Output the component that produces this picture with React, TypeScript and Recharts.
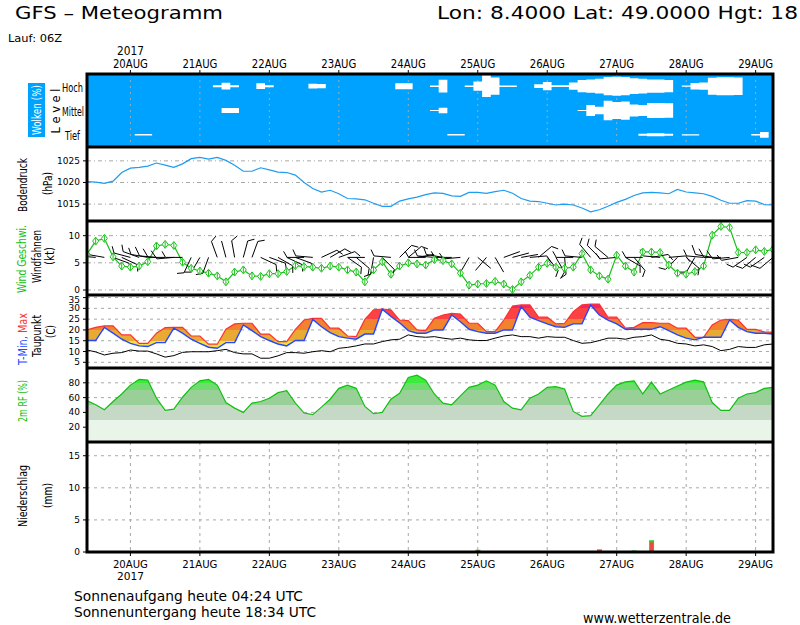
import React from 'react'
import { ComposedChart, Line, Area, Bar, Scatter, XAxis, YAxis, CartesianGrid } from 'recharts'

// forecast steps, hours after 20AUG 00Z (GFS Lauf 06Z, 3-hourly)
const forecastHours = [
  -15, -12, -9, -6, -3, 0, 3, 6, 9, 12,
  15, 18, 21, 24, 27, 30, 33, 36, 39, 42,
  45, 48, 51, 54, 57, 60, 63, 66, 69, 72,
  75, 78, 81, 84, 87, 90, 93, 96, 99, 102,
  105, 108, 111, 114, 117, 120, 123, 126, 129, 132,
  135, 138, 141, 144, 147, 150, 153, 156, 159, 162,
  165, 168, 171, 174, 177, 180, 183, 186, 189, 192,
  195, 198, 201, 204, 207, 210, 213, 216, 219, 222,
]

const dayTicks = [0, 24, 48, 72, 96, 120, 144, 168, 192, 216]
const dayLabels = ['20AUG', '21AUG', '22AUG', '23AUG', '24AUG', '25AUG', '26AUG', '27AUG', '28AUG', '29AUG']

// cloud cover per level (fraction of the level band)
const cloudHigh = [
  0, 0, 0, 0, 0, 0, 0, 0, 0, 0,
  0, 0, 0, 0, 0, 0.08, 0.28, 0.08, 0, 0,
  0.24, 0.08, 0, 0, 0, 0, 0.2, 0.18, 0, 0,
  0, 0, 0, 0, 0, 0, 0.25, 0.25, 0, 0,
  0.06, 0.52, 0, 0, 0.06, 0.38, 0.89, 0.71, 0.06, 0.06,
  0, 0, 0.15, 0.34, 0.07, 0.07, 0.3, 0.5, 0.55, 0.6,
  0.75, 0.78, 0.75, 0.65, 0.6, 0.55, 0.55, 0.5, 0, 0.05,
  0.27, 0.3, 0.7, 0.74, 0.74, 0.72, 0, 0, 0, 0,
]
const cloudMid = [
  0, 0, 0, 0, 0, 0, 0, 0, 0, 0,
  0, 0, 0, 0, 0, 0, 0.2, 0.2, 0, 0,
  0, 0, 0, 0, 0, 0, 0, 0, 0, 0,
  0, 0, 0, 0, 0, 0, 0, 0, 0, 0,
  0.05, 0.22, 0, 0, 0, 0, 0, 0, 0, 0,
  0, 0, 0, 0, 0, 0, 0, 0.05, 0.45, 0.3,
  0.8, 0.7, 0.75, 0.5, 0.45, 0.62, 0.62, 0.6, 0, 0,
  0, 0, 0, 0, 0, 0, 0, 0, 0, 0,
]
const cloudLow = [
  0, 0, 0, 0, 0, 0, 0.06, 0.06, 0, 0,
  0, 0, 0, 0, 0, 0, 0, 0, 0, 0,
  0, 0, 0, 0, 0, 0, 0, 0, 0, 0,
  0, 0, 0, 0, 0, 0, 0, 0, 0, 0,
  0, 0, 0.06, 0.06, 0, 0, 0, 0, 0, 0,
  0, 0, 0, 0, 0, 0, 0, 0, 0, 0,
  0, 0, 0, 0, 0.08, 0.12, 0.12, 0.08, 0, 0.05,
  0.05, 0, 0, 0, 0, 0, 0, 0.06, 0.23, 0,
]

// Bodendruck (hPa)
const pressure = [
  1020.2, 1020.1, 1019.8, 1020.3, 1022.3, 1023.3, 1023.5, 1023.8, 1024.5, 1024.0,
  1023.5, 1024.3, 1025.5, 1025.8, 1025.4, 1025.8, 1025.1, 1024.0, 1022.6, 1022.6,
  1023.4, 1022.9, 1022.4, 1022.3, 1021.7, 1020.0, 1018.6, 1017.8, 1018.2, 1017.4,
  1016.3, 1016.2, 1016.0, 1015.2, 1014.5, 1014.5, 1015.7, 1016.2, 1016.6, 1017.2,
  1017.6, 1017.5, 1016.9, 1016.8, 1017.7, 1017.7, 1017.5, 1017.9, 1018.2, 1017.5,
  1016.3, 1015.7, 1015.6, 1015.2, 1014.8, 1015.0, 1014.8, 1014.1, 1013.2, 1013.7,
  1014.5, 1015.4, 1016.1, 1017.0, 1017.6, 1017.7, 1017.6, 1017.4, 1018.4, 1017.8,
  1017.6, 1017.4, 1016.8, 1015.9, 1015.2, 1015.2, 1015.8, 1015.7, 1014.9, 1014.8,
]

// Wind Geschwindigkeit (kt) and direction (deg, wind from)
const windSpeed = [
  6.6, 9.0, 9.5, 6.1, 4.4, 4.2, 4.4, 5.2, 8.1, 8.4,
  8.2, 5.1, 4.0, 3.5, 3.1, 2.6, 1.5, 3.3, 3.7, 2.6,
  2.5, 3.0, 3.0, 3.4, 4.5, 4.3, 4.2, 4.0, 4.4, 4.2,
  3.7, 3.3, 1.5, 3.7, 5.2, 2.9, 4.4, 5.0, 4.8, 4.6,
  5.6, 5.4, 4.8, 3.1, 0.9, 1.1, 1.2, 1.6, 1.1, 0.1,
  1.5, 2.7, 4.2, 4.9, 4.2, 4.0, 4.2, 6.7, 3.7, 2.6,
  2.0, 6.4, 4.4, 3.3, 7.0, 7.0, 6.9, 4.6, 3.1, 2.9,
  3.4, 4.4, 10.1, 11.7, 11.5, 6.9, 6.9, 7.4, 7.1, 7.5,
]
const windDir = [
  270, 275, 280, 110, 115, 285, 290, 280, 275, 270,
  265, 270, 205, 210, 200, 340, 345, 350, 15, 20,
  115, 110, 120, 115, 110, 270, 275, 65, 60, 70,
  125, 130, 270, 190, 135, 275, 45, 50, 80, 270,
  275, 280, 270, 265, 210, 130, 220, 150, 70, 75,
  80, 85, 50, 140, 150, 175, 270, 275, 320, 315,
  310, 265, 120, 140, 270, 80, 275, 85, 225, 130,
  210, 275, 280, 270, 265, 260, 235, 230, 235, 230,
]
const BARB_LEVEL = 6

// Temperatur (C)
const tMax = [
  20.0, 21.2, 21.9, 21.9, 17.7, 17.7, 13.8, 13.8, 18.5, 21.1,
  21.2, 21.2, 17.2, 17.2, 13.4, 13.4, 20.3, 22.8, 23.1, 23.1,
  18.1, 18.1, 14.6, 14.6, 20.3, 24.6, 25.4, 25.4, 20.8, 20.8,
  17.2, 16.9, 24.9, 29.3, 29.7, 29.3, 24.6, 24.3, 20.0, 19.7,
  25.4, 26.9, 27.7, 27.4, 23.1, 23.1, 19.2, 19.2, 24.6, 31.1,
  31.6, 31.6, 25.9, 25.9, 22.8, 23.1, 28.5, 31.6, 32.0, 32.0,
  25.9, 25.9, 20.8, 21.2, 23.4, 23.4, 23.1, 23.1, 20.8, 20.8,
  16.6, 16.6, 22.3, 24.6, 24.9, 24.6, 20.3, 20.3, 19.1, 18.9,
]
const tMin = [
  15.1, 15.1, 21.2, 18.5, 15.7, 13.8, 12.6, 12.3, 14.1, 14.1,
  20.8, 18.5, 15.7, 13.8, 12.0, 11.5, 14.1, 14.1, 22.3, 19.7,
  16.9, 15.1, 13.5, 12.6, 15.1, 15.1, 24.9, 21.5, 18.8, 16.9,
  16.2, 15.7, 18.1, 18.1, 29.6, 26.2, 23.3, 19.7, 18.5, 18.5,
  20.0, 20.0, 26.9, 23.8, 20.3, 19.2, 18.5, 18.5, 20.0, 20.0,
  30.8, 25.9, 24.3, 22.8, 21.5, 21.2, 22.8, 22.8, 31.6, 26.9,
  24.6, 22.8, 20.3, 20.3, 20.3, 20.3, 21.5, 19.7, 17.7, 16.2,
  15.4, 16.6, 16.6, 16.6, 24.6, 21.2, 19.2, 18.5, 18.5, 18.1,
]
const dewPoint = [
  10.7, 9.8, 8.4, 9.2, 9.5, 10.7, 10.2, 10.2, 8.9, 7.4,
  8.1, 9.6, 9.9, 9.9, 9.9, 10.4, 11.0, 9.5, 8.9, 8.9,
  6.9, 6.9, 8.0, 9.5, 9.5, 9.2, 9.9, 10.4, 9.9, 11.5,
  11.9, 12.6, 13.5, 13.5, 14.6, 15.4, 15.7, 17.7, 16.9, 16.6,
  16.9, 16.2, 15.7, 16.2, 15.4, 15.1, 15.1, 16.2, 17.2, 17.7,
  16.9, 16.9, 16.2, 16.9, 16.6, 16.6, 15.1, 13.8, 14.1, 15.1,
  16.2, 16.2, 15.7, 16.6, 16.9, 17.7, 15.7, 15.1, 13.8, 13.5,
  12.6, 13.1, 12.3, 10.4, 11.0, 12.3, 11.9, 11.9, 13.1, 13.5,
]

// 2m relative Feuchte (%)
const relHum = [
  56, 50.3, 43.6, 54.7, 64.9, 76.9, 84.5, 83.6, 59.2, 42.7,
  44.3, 60.5, 73.8, 82.7, 84.5, 76.9, 53.3, 45.8, 40, 52.5,
  54.7, 59.2, 66.7, 69.3, 52.5, 39.1, 36.9, 47.1, 57.8, 72.5,
  76.9, 72.5, 48, 38.2, 40, 57.8, 65.8, 87.2, 90.3, 83.6,
  64.9, 52.5, 50.3, 62.3, 73.8, 76.9, 82.7, 76.9, 54.7, 45.8,
  43.6, 59.2, 64.9, 73.8, 74.7, 71.6, 41.3, 34.7, 35.6, 50.3,
  64.9, 76.9, 81.3, 82.7, 64.9, 80.9, 64.9, 70.3, 75.6, 80.9,
  83.6, 81.3, 53.3, 42.7, 42.7, 59.2, 64.9, 66.7, 72.5, 73.8,
]

// Niederschlag (mm / 3h), total and convective part
const rainTotal = [
  0, 0.1, 0, 0, 0, 0, 0, 0, 0, 0,
  0, 0, 0, 0, 0, 0, 0, 0, 0, 0,
  0, 0, 0, 0, 0, 0, 0, 0, 0, 0,
  0, 0, 0, 0, 0, 0, 0, 0, 0, 0,
  0, 0, 0, 0, 0, 0.35, 0.1, 0, 0, 0,
  0, 0, 0, 0, 0, 0, 0, 0, 0.1, 0.42,
  0, 0, 0, 0.25, 0, 1.83, 0, 0, 0, 0,
  0, 0, 0, 0, 0, 0, 0, 0, 0, 0,
]
const rainConv = [
  0, 0.1, 0, 0, 0, 0, 0, 0, 0, 0,
  0, 0, 0, 0, 0, 0, 0, 0, 0, 0,
  0, 0, 0, 0, 0, 0, 0, 0, 0, 0,
  0, 0, 0, 0, 0, 0, 0, 0, 0, 0,
  0, 0, 0, 0, 0, 0.25, 0.1, 0, 0, 0,
  0, 0, 0, 0, 0, 0, 0, 0, 0.1, 0.3,
  0, 0, 0, 0, 0, 1.5, 0, 0, 0, 0,
  0, 0, 0, 0, 0, 0, 0, 0, 0, 0,
]

const rows = forecastHours.map((t, i) => ({
  t,
  hi: cloudHigh[i],
  mid: cloudMid[i],
  lo: cloudLow[i],
  pres: pressure[i],
  wind: windSpeed[i],
  dir: windDir[i],
  barb: BARB_LEVEL,
  tmax: tMax[i],
  tmin: tMin[i],
  dew: dewPoint[i],
  rh: relHum[i],
  rain: rainTotal[i],
  conv: rainConv[i],
}))

const W = 800
const H = 625
const PLOT_LEFT = 87
const PLOT_RIGHT = 773
const YW = 40
const PAD = 10
const X_DOMAIN: [number, number] = [-15, 222]
const FONT = 'DejaVu Sans, Verdana, sans-serif'
const GRID = '#a8a8a8'

const P = {
  cloud: [74, 147],
  pres: [147, 221],
  wind: [221, 295],
  temp: [295, 368],
  rh: [368, 442],
  rain: [442, 552],
}

const PRES_DOMAIN: [number, number] = [1011.1, 1028.2]
const WIND_DOMAIN: [number, number] = [-0.92, 12.7]
const TEMP_DOMAIN: [number, number] = [2.36, 36.2]
const RH_DOMAIN: [number, number] = [0, 100]
const RAIN_DOMAIN: [number, number] = [0, 17.14]

const tempBands: [number, number, string][] = [
  [30, 99, '#f0266c'],
  [25, 30, '#fc4242'],
  [20, 25, '#f2822e'],
  [15, 20, '#e8aa32'],
  [-99, 15, '#f0e040'],
]
const rhBands: [number, number, string][] = [
  [80, 101, '#3cec3c'],
  [70, 80, '#70dc70'],
  [50, 70, '#98d098'],
  [30, 50, '#c6d8c6'],
  [-1, 30, '#eaf5ea'],
]

function BandGradient({ id, domain, top, height, bands }: any) {
  const span = domain[1] - domain[0]
  const off = (v: number) => Math.min(1, Math.max(0, (domain[1] - v) / span))
  const stops: any[] = []
  bands.forEach(([lo, hi, c]: [number, number, string], k: number) => {
    stops.push(<stop key={k + 'a'} offset={off(hi)} stopColor={c} />)
    stops.push(<stop key={k + 'b'} offset={off(lo)} stopColor={c} />)
  })
  return (
    <linearGradient id={id} gradientUnits="userSpaceOnUse" x1={0} y1={top} x2={0} y2={top + height}>
      {stops}
    </linearGradient>
  )
}

function Diamond({ cx, cy }: any) {
  if (cx == null || cy == null) return null
  return (
    <g stroke="#18c018" strokeWidth={1} fill="#fff">
      <polygon points={`${cx},${cy - 4} ${cx + 3},${cy} ${cx},${cy + 4} ${cx - 3},${cy}`} />
      <line x1={cx} y1={cy - 3} x2={cx} y2={cy + 3} />
    </g>
  )
}

function Barb(props: any) {
  const { cx, cy, payload } = props
  if (cx == null || cy == null) return null
  const a = (payload.dir * Math.PI) / 180
  const ux = Math.sin(a)
  const uy = -Math.cos(a)
  const L = 17
  const tx = cx + ux * L
  const ty = cy + uy * L
  const c = Math.cos(Math.PI / 3)
  const s = Math.sin(Math.PI / 3)
  const fx = ux * c - uy * s
  const fy = ux * s + uy * c
  const fl = payload.wind >= 7.5 ? 10 : payload.wind >= 2 ? 7 : 0
  return (
    <g stroke="#000" strokeWidth={1}>
      <line x1={cx} y1={cy} x2={tx} y2={ty} />
      {fl > 0 && <line x1={tx} y1={ty} x2={tx + fx * fl} y2={ty + fy * fl} />}
    </g>
  )
}

function RainBar(props: any) {
  const { x, y, width, height, payload } = props
  if (!height || height <= 0) return null
  const hc = payload.rain > 0 ? (height * payload.conv) / payload.rain : 0
  return (
    <g>
      <rect x={x} y={y} width={width} height={height} fill="#22d022" />
      {hc > 0 && <rect x={x + 1} y={y + height - hc} width={width - 2} height={hc} fill="#f04848" />}
    </g>
  )
}

const dayLabel = (v: number) => dayLabels[dayTicks.indexOf(v)]

function TopTick({ x, y, payload }: any) {
  return (
    <g fontFamily={FONT} fontSize={11.5} fill="#000">
      <text x={x} y={y} textAnchor="middle" textLength={35} lengthAdjust="spacingAndGlyphs">
        {dayLabel(payload.value)}
      </text>
      {payload.value === 0 && (
        <text x={x} y={y - 12.6} textAnchor="middle" textLength={27} lengthAdjust="spacingAndGlyphs">
          2017
        </text>
      )}
    </g>
  )
}

function BottomTick({ x, y, payload }: any) {
  return (
    <g fontFamily={FONT} fontSize={10} fill="#000">
      <text x={x} y={y + 10} textAnchor="middle" textLength={35} lengthAdjust="spacingAndGlyphs">
        {dayLabel(payload.value)}
      </text>
      {payload.value === 0 && (
        <text x={x} y={y + 21.5} textAnchor="middle" textLength={27} lengthAdjust="spacingAndGlyphs">
          2017
        </text>
      )}
    </g>
  )
}

// y tick label; the topmost temperature label sits under the panel frame, nudge it down a bit
function YTick({ x, y, payload, nudgeTop }: any) {
  const dy = nudgeTop != null && payload.value === nudgeTop ? 2 : 0
  return (
    <text x={x} y={y + dy} textAnchor="end" dominantBaseline="central" fontFamily={FONT} fontSize={9} fill="#000">
      {payload.value}
    </text>
  )
}

function Box({ top, children }: any) {
  return <div style={{ position: 'absolute', left: 0, top }}>{children}</div>
}

function hiddenX() {
  return <XAxis type="number" dataKey="t" domain={X_DOMAIN} ticks={dayTicks} allowDataOverflow hide />
}

function yAxis(domain: [number, number], ticks: number[], nudgeTop?: number) {
  return (
    <YAxis
      type="number"
      domain={domain}
      ticks={ticks}
      interval={0}
      allowDataOverflow
      width={YW}
      axisLine={false}
      tickLine={{ stroke: '#000' }}
      tickSize={4}
      tickMargin={3}
      tick={<YTick nudgeTop={nudgeTop} />}
    />
  )
}

function RotLabel({ x, y, len, children, fill = '#000', size = 11.5 }: any) {
  return (
    <text
      x={x}
      y={y}
      transform={`rotate(-90 ${x} ${y})`}
      textAnchor="middle"
      dominantBaseline="central"
      fontFamily={FONT}
      fontSize={size}
      fill={fill}
      textLength={len}
      lengthAdjust="spacingAndGlyphs"
    >
      {children}
    </text>
  )
}

export default function App() {
  const margin = { top: PAD, bottom: PAD, left: PLOT_LEFT - YW, right: W - PLOT_RIGHT }
  const ph = (k: keyof typeof P) => P[k][1] - P[k][0]

  return (
    <div style={{ position: 'absolute', left: 0, top: 0, width: W, height: H, background: '#fff', overflow: 'hidden' }}>
      {/* Wolken */}
      <Box top={P.cloud[0] - 40}>
        <ComposedChart
          width={W}
          height={40 + ph('cloud')}
          data={rows}
          margin={{ top: 4, bottom: 0, left: PLOT_LEFT, right: W - PLOT_RIGHT }}
        >
          <CartesianGrid horizontal={false} fill="#00a2ff" stroke={GRID} strokeDasharray="2 4" />
          <XAxis
            type="number"
            dataKey="t"
            domain={X_DOMAIN}
            ticks={dayTicks}
            interval={0}
            allowDataOverflow
            orientation="top"
            height={36}
            axisLine={false}
            tickLine={{ stroke: '#000' }}
            tickSize={4}
            tickMargin={2}
            tick={<TopTick />}
          />
          <YAxis type="number" domain={[0, 3]} allowDataOverflow hide />
          <Area type="step" dataKey={(d: any) => [2.5 - d.hi / 2, 2.5 + d.hi / 2]} stroke="none" fill="#fff" fillOpacity={1} isAnimationActive={false} />
          <Area type="step" dataKey={(d: any) => [1.5 - d.mid / 2, 1.5 + d.mid / 2]} stroke="none" fill="#fff" fillOpacity={1} isAnimationActive={false} />
          <Area type="step" dataKey={(d: any) => [0.5 - d.lo / 2, 0.5 + d.lo / 2]} stroke="none" fill="#fff" fillOpacity={1} isAnimationActive={false} />
        </ComposedChart>
      </Box>

      {/* Bodendruck */}
      <Box top={P.pres[0] - PAD}>
        <ComposedChart width={W} height={ph('pres') + 2 * PAD} data={rows} margin={margin}>
          <CartesianGrid vertical={false} stroke={GRID} strokeDasharray="4 3 1 3" />
          {hiddenX()}
          {yAxis(PRES_DOMAIN, [1015, 1020, 1025])}
          <Line type="linear" dataKey="pres" stroke="#1e9cf0" strokeWidth={1.2} dot={false} isAnimationActive={false} />
        </ComposedChart>
      </Box>

      {/* Wind */}
      <Box top={P.wind[0] - PAD}>
        <ComposedChart width={W} height={ph('wind') + 2 * PAD} data={rows} margin={margin}>
          <CartesianGrid vertical={false} stroke={GRID} strokeDasharray="4 3 1 3" />
          {hiddenX()}
          {yAxis(WIND_DOMAIN, [0, 5, 10])}
          <Scatter dataKey="barb" data={rows} shape={<Barb />} isAnimationActive={false} />
          <Line
            type="linear"
            dataKey="wind"
            stroke="#18c018"
            strokeWidth={1.2}
            dot={(p: any) => <Diamond key={p.index} cx={p.cx} cy={p.cy} />}
            activeDot={false}
            isAnimationActive={false}
          />
        </ComposedChart>
      </Box>

      {/* Temperatur */}
      <Box top={P.temp[0] - PAD}>
        <ComposedChart width={W} height={ph('temp') + 2 * PAD} data={rows} margin={margin}>
          <defs>
            <BandGradient id="tGrad" domain={TEMP_DOMAIN} top={PAD} height={ph('temp')} bands={tempBands} />
          </defs>
          <CartesianGrid vertical={false} stroke={GRID} strokeDasharray="3 4" />
          {hiddenX()}
          {yAxis(TEMP_DOMAIN, [5, 10, 15, 20, 25, 30, 35], 35)}
          <Area type="linear" dataKey={(d: any) => [d.tmin, d.tmax]} stroke="none" fill="url(#tGrad)" fillOpacity={1} isAnimationActive={false} />
          <Line type="linear" dataKey="tmax" stroke="#ff3030" strokeWidth={1.2} dot={false} isAnimationActive={false} />
          <Line type="linear" dataKey="tmin" stroke="#2448ff" strokeWidth={1.4} dot={false} isAnimationActive={false} />
          <Line type="linear" dataKey="dew" stroke="#000" strokeWidth={1} dot={false} isAnimationActive={false} />
        </ComposedChart>
      </Box>

      {/* Relative Feuchte */}
      <Box top={P.rh[0] - PAD}>
        <ComposedChart width={W} height={ph('rh') + 2 * PAD} data={rows} margin={margin}>
          <defs>
            <BandGradient id="rhGrad" domain={RH_DOMAIN} top={PAD} height={ph('rh')} bands={rhBands} />
          </defs>
          {hiddenX()}
          {yAxis(RH_DOMAIN, [20, 40, 60, 80])}
          <Area type="linear" dataKey="rh" stroke="#10c010" strokeWidth={1.2} fill="url(#rhGrad)" fillOpacity={1} baseValue={0} isAnimationActive={false} />
          <CartesianGrid vertical={false} stroke={GRID} strokeDasharray="3 4" />
        </ComposedChart>
      </Box>

      {/* Niederschlag */}
      <Box top={P.rain[0] - PAD}>
        <ComposedChart
          width={W}
          height={PAD + ph('rain') + 30}
          data={rows}
          margin={{ top: PAD, bottom: 0, left: PLOT_LEFT - YW, right: W - PLOT_RIGHT }}
        >
          <CartesianGrid stroke={GRID} strokeDasharray="3 4" />
          <XAxis
            type="number"
            dataKey="t"
            domain={X_DOMAIN}
            ticks={dayTicks}
            interval={0}
            allowDataOverflow
            orientation="bottom"
            height={30}
            axisLine={false}
            tickLine={{ stroke: '#000' }}
            tickSize={4}
            tickMargin={2}
            tick={<BottomTick />}
          />
          {yAxis(RAIN_DOMAIN, [0, 5, 10, 15])}
          <Bar dataKey="rain" barSize={5} shape={<RainBar />} isAnimationActive={false} />
        </ComposedChart>
      </Box>

      {/* frames and texts */}
      <svg width={W} height={H} style={{ position: 'absolute', left: 0, top: 0, pointerEvents: 'none' }}>
        <g stroke="#000" strokeWidth={3} fill="none">
          <rect x={PLOT_LEFT} y={P.cloud[0]} width={PLOT_RIGHT - PLOT_LEFT} height={P.rain[1] - P.cloud[0]} />
          {[P.pres[0], P.wind[0], P.temp[0], P.rh[0], P.rain[0]].map((y) => (
            <line key={y} x1={PLOT_LEFT} y1={y} x2={PLOT_RIGHT} y2={y} />
          ))}
        </g>

        <g fontFamily={FONT} fill="#000">
          <text x={15} y={18.5} fontSize={17} textLength={208} lengthAdjust="spacingAndGlyphs">
            GFS – Meteogramm
          </text>
          <text x={437} y={18.5} fontSize={17} textLength={361} lengthAdjust="spacingAndGlyphs">
            Lon: 8.4000 Lat: 49.0000 Hgt: 18
          </text>
          <text x={8} y={41.5} fontSize={11} textLength={54} lengthAdjust="spacingAndGlyphs">
            Lauf: 06Z
          </text>
          <text x={74} y={600.5} fontSize={13.5} textLength={229} lengthAdjust="spacingAndGlyphs">
            Sonnenaufgang heute 04:24 UTC
          </text>
          <text x={74} y={616.5} fontSize={13.5} textLength={242} lengthAdjust="spacingAndGlyphs">
            Sonnenuntergang heute 18:34 UTC
          </text>
          <text x={583} y={622.5} fontSize={13.5} textLength={148} lengthAdjust="spacingAndGlyphs">
            www.wetterzentrale.de
          </text>

          <text x={62} y={91.5} fontSize={11.5} textLength={21} lengthAdjust="spacingAndGlyphs">Hoch</text>
          <text x={62} y={115.5} fontSize={11.5} textLength={22} lengthAdjust="spacingAndGlyphs">Mittel</text>
          <text x={65} y={140} fontSize={11.5} textLength={15} lengthAdjust="spacingAndGlyphs">Tief</text>
        </g>

        <rect x={28} y={83} width={17} height={54} fill="#00a2ff" />
        <RotLabel x={36.5} y={110} len={50} fill="#fff">Wolken (%)</RotLabel>
        <RotLabel x={56} y={111} len={45}>L e v e l</RotLabel>

        <RotLabel x={22.5} y={185} len={54}>Bodendruck</RotLabel>
        <RotLabel x={48} y={183.5} len={23}>(hPa)</RotLabel>

        <RotLabel x={22} y={259} len={68} fill="#10c010">Wind Geschwi.</RotLabel>
        <RotLabel x={37} y={256.5} len={53}>Windfahnen</RotLabel>
        <RotLabel x={50} y={256} len={18}>(kt)</RotLabel>

        <text
          x={23}
          y={339}
          transform="rotate(-90 23 339)"
          textAnchor="middle"
          dominantBaseline="central"
          fontFamily={FONT}
          fontSize={11.5}
          textLength={52}
          lengthAdjust="spacingAndGlyphs"
        >
          <tspan fill="#2448ff">T-Min, </tspan>
          <tspan fill="#ff3030">Max</tspan>
        </text>
        <RotLabel x={37} y={336} len={42}>Taupunkt</RotLabel>
        <RotLabel x={51} y={331.5} len={13}>(C)</RotLabel>

        <RotLabel x={23} y={401} len={42} fill="#10c010">2m RF (%)</RotLabel>

        <RotLabel x={22.5} y={496} len={62}>Niederschlag</RotLabel>
        <RotLabel x={48} y={495.5} len={25}>(mm)</RotLabel>
      </svg>
    </div>
  )
}
